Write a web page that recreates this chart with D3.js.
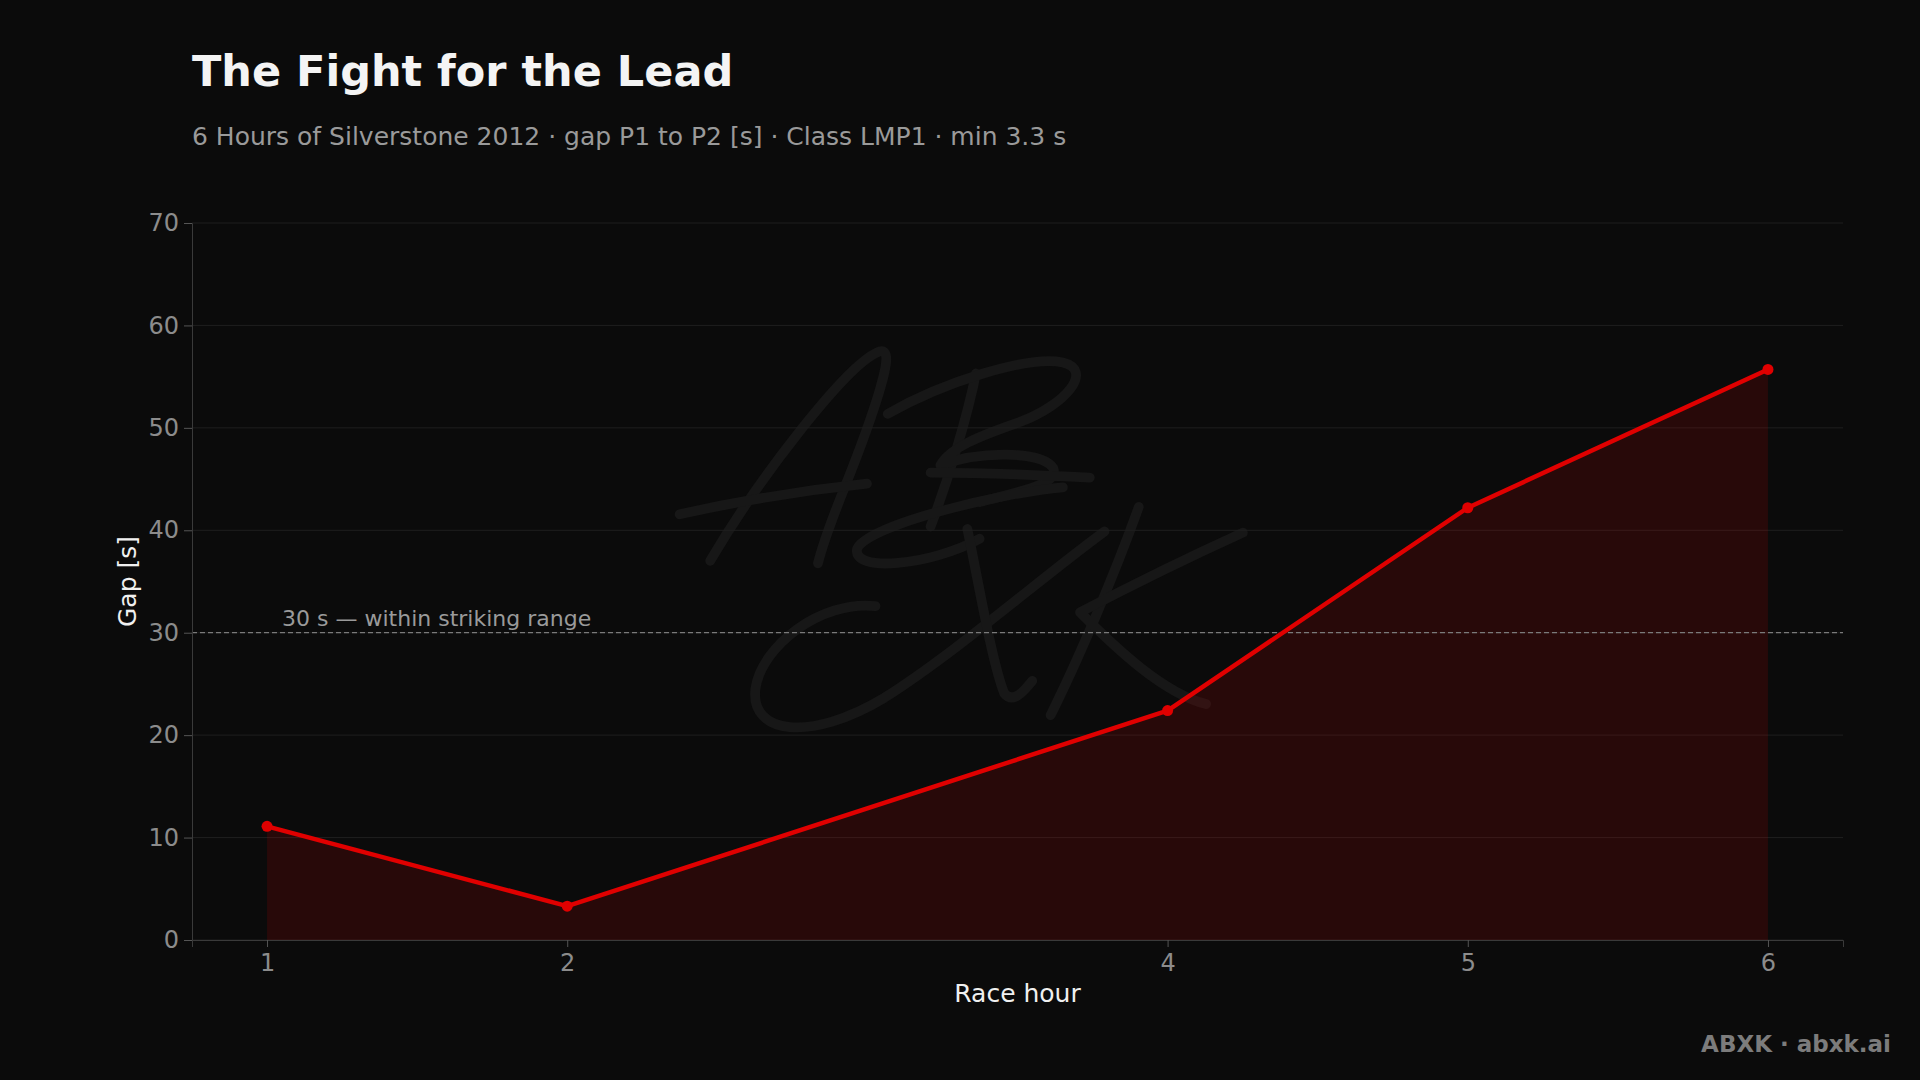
<!DOCTYPE html>
<html>
<head>
<meta charset="utf-8">
<script src="https://cdn.jsdelivr.net/npm/d3@7"></script>
<style>
  html, body { margin: 0; padding: 0; background: #0b0b0b; }
  svg { display: block; }
</style>
</head>
<body>
<svg id="chart" width="1920" height="1080"></svg>
<script>
// ---- data ----
const hours = [1, 2, 4, 5, 6];
const gaps = [11.1, 3.3, 22.4, 42.2, 55.7];
const yTicks = [0, 10, 20, 30, 40, 50, 60, 70];
const refValue = 30;
const refLabel = "30 s \u2014 within striking range";
const titleText = "The Fight for the Lead";
const subtitleText = "6 Hours of Silverstone 2012 \u00b7 gap P1 to P2 [s] \u00b7 Class LMP1 \u00b7 min 3.3 s";
const xLabelText = "Race hour";
const yLabelText = "Gap [s]";
const footerText = "ABXK \u00b7 abxk.ai";

const W = 1920, H = 1080;
const margin = { left: 192, right: 77, top: 223, bottom: 140 };
const svg = d3.select("#chart");
const font = "'DejaVu Sans', Verdana, sans-serif";

svg.append("rect").attr("width", W).attr("height", H).attr("fill", "#0b0b0b");

const x = d3.scaleLinear().domain([0.75, 6.25]).range([margin.left, W - margin.right]);
const y = d3.scaleLinear().domain([0, 70]).range([H - margin.bottom, margin.top]);

// watermark signature (decorative)
const wm = svg.append("g").attr("transform", "scale(1.2245)")
  .attr("fill", "none").attr("stroke", "#171717").attr("stroke-width", 8)
  .attr("stroke-linecap", "round").attr("stroke-linejoin", "round");
const wmPaths = [
  "M580,458 C620,390 690,300 716,288 C728,282 724,300 718,320 C700,380 678,420 668,460",
  "M555,420 C600,410 660,400 708,395",
  "M797,305 C790,340 775,390 760,430",
  "M725,338 C770,312 840,290 868,296 C893,302 872,330 832,345 C800,356 775,366 768,380 C800,368 850,368 860,382 C866,396 830,402 800,410",
  "M868,398 C820,402 710,428 700,448 C695,468 760,462 800,440",
  "M760,386 C800,386 850,388 890,390",
  "M715,495 C670,490 622,528 617,562 C612,600 662,606 722,570 C782,532 850,472 902,434",
  "M790,432 C800,480 810,540 820,566 C828,576 838,562 843,556",
  "M930,414 C910,470 880,540 858,584",
  "M1015,435 C960,460 905,488 882,500 C912,530 950,566 985,575"
];
wm.selectAll("path").data(wmPaths).join("path").attr("d", d => d);

// gridlines
svg.append("g").selectAll("line").data(yTicks).join("line")
  .attr("x1", margin.left).attr("x2", W - margin.right)
  .attr("y1", d => y(d)).attr("y2", d => y(d))
  .attr("stroke", "#1f1f1f").attr("stroke-width", 1);

// area + line
const pts = hours.map((h, i) => ({ h, g: gaps[i] }));
svg.append("path").datum(pts)
  .attr("d", d3.area().x(d => x(d.h)).y0(y(0)).y1(d => y(d.g)))
  .attr("fill", "#dc0000").attr("fill-opacity", 0.14);

// reference line
svg.append("line")
  .attr("x1", margin.left).attr("x2", W - margin.right)
  .attr("y1", y(refValue)).attr("y2", y(refValue))
  .attr("stroke", "#7a7a7a").attr("stroke-width", 1.3).attr("stroke-dasharray", "5,3");
svg.append("text").attr("x", x(1.05)).attr("y", y(refValue) - 7)
  .attr("fill", "#9a9a9a").attr("font-family", font).attr("font-size", 22)
  .text(refLabel);

svg.append("path").datum(pts)
  .attr("d", d3.line().x(d => x(d.h)).y(d => y(d.g)))
  .attr("fill", "none").attr("stroke", "#e00000").attr("stroke-width", 4.5)
  .attr("stroke-linejoin", "round");
svg.append("g").selectAll("circle").data(pts).join("circle")
  .attr("cx", d => x(d.h)).attr("cy", d => y(d.g)).attr("r", 5.5)
  .attr("fill", "#e00000");

// axes
const yAxis = svg.append("g").attr("transform", `translate(${margin.left},0)`)
  .call(d3.axisLeft(y).tickValues(yTicks).tickSize(8).tickPadding(5));
const xAxis = svg.append("g").attr("transform", `translate(0,${H - margin.bottom})`)
  .call(d3.axisBottom(x).tickValues(hours).tickFormat(d3.format("d")).tickSize(7).tickPadding(7));
[yAxis, xAxis].forEach(a => {
  a.select(".domain").attr("stroke", "#3a3a3a");
  a.selectAll(".tick line").attr("stroke", "#555");
  a.selectAll(".tick text").attr("fill", "#8c8c8c").attr("font-family", font).attr("font-size", 24);
});

// titles
svg.append("text").attr("x", 192).attr("y", 86)
  .attr("fill", "#f4f4f4").attr("font-family", font).attr("font-weight", "bold").attr("font-size", 43)
  .text(titleText);
svg.append("text").attr("x", 192).attr("y", 145)
  .attr("fill", "#9a9a9a").attr("font-family", font).attr("font-size", 25)
  .text(subtitleText);

svg.append("text").attr("x", (margin.left + W - margin.right) / 2).attr("y", 1002)
  .attr("text-anchor", "middle").attr("fill", "#f0f0f0").attr("font-family", font).attr("font-size", 25)
  .text(xLabelText);
svg.append("text")
  .attr("transform", `translate(136,${(margin.top + H - margin.bottom) / 2}) rotate(-90)`)
  .attr("text-anchor", "middle").attr("fill", "#f0f0f0").attr("font-family", font).attr("font-size", 25)
  .text(yLabelText);

svg.append("text").attr("x", 1891).attr("y", 1052).attr("text-anchor", "end")
  .attr("fill", "#7c7c7c").attr("font-family", font).attr("font-weight", "bold").attr("font-size", 23)
  .text(footerText);
</script>
</body>
</html>
